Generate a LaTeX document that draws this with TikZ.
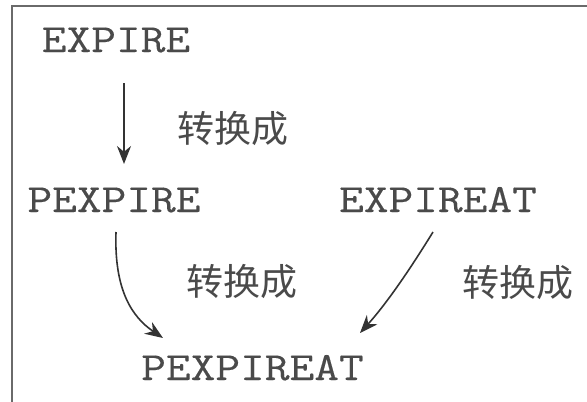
\documentclass[tikz,border=0pt]{standalone}
\usepackage{fontspec}
\setmonofont[FakeStretch=1.2,FakeBold=0.3]{Latin Modern Mono}
\newfontfamily\cjk{Noto Sans CJK SC}
\usetikzlibrary{arrows.meta}
\definecolor{txtgray}{HTML}{4A4A4A}
\definecolor{framegray}{HTML}{6A6A6A}
\definecolor{arrgray}{HTML}{333333}
\begin{document}
\begin{tikzpicture}[x=1pt,y=-1pt,
  term/.style={anchor=base,inner sep=0pt,text=txtgray,font=\fontsize{40}{40}\ttfamily},
  lbl/.style={anchor=center,inner sep=0pt,text=txtgray,font=\fontsize{37}{37}\cjk},
  conv/.style={draw=arrgray,line width=1.6pt,-{Stealth[length=18pt,width=14pt]}}]
\useasboundingbox (0,0) rectangle (587,402);
\draw[framegray,line width=2pt] (12,402) -- (12,6) -- (587,6);
\node[term] (e1) at (116,52) {EXPIRE};
\node[term] (p1) at (114,212) {PEXPIRE};
\node[term] (e2) at (438,212) {EXPIREAT};
\node[term] (p2) at (252.5,380) {PEXPIREAT};
\node[lbl] (l1) at (233,129) {转换成};
\node[lbl] (l2) at (242,282) {转换成};
\node[lbl] (l3) at (518,283) {转换成};
\coordinate (a1s) at (124,83);
\coordinate (a1e) at (124,164);
\coordinate (a2s) at (116,232);
\coordinate (a2e) at (163,338);
\coordinate (a3s) at (433,232);
\coordinate (a3e) at (360,333);
\draw[conv] (a1s) -- (a1e);
\draw[conv] (a2s) .. controls (114,290) and (132,317) .. (a2e);
\draw[conv] (a3s) .. controls (412,266) and (388,302) .. (a3e);
\end{tikzpicture}
\end{document}
